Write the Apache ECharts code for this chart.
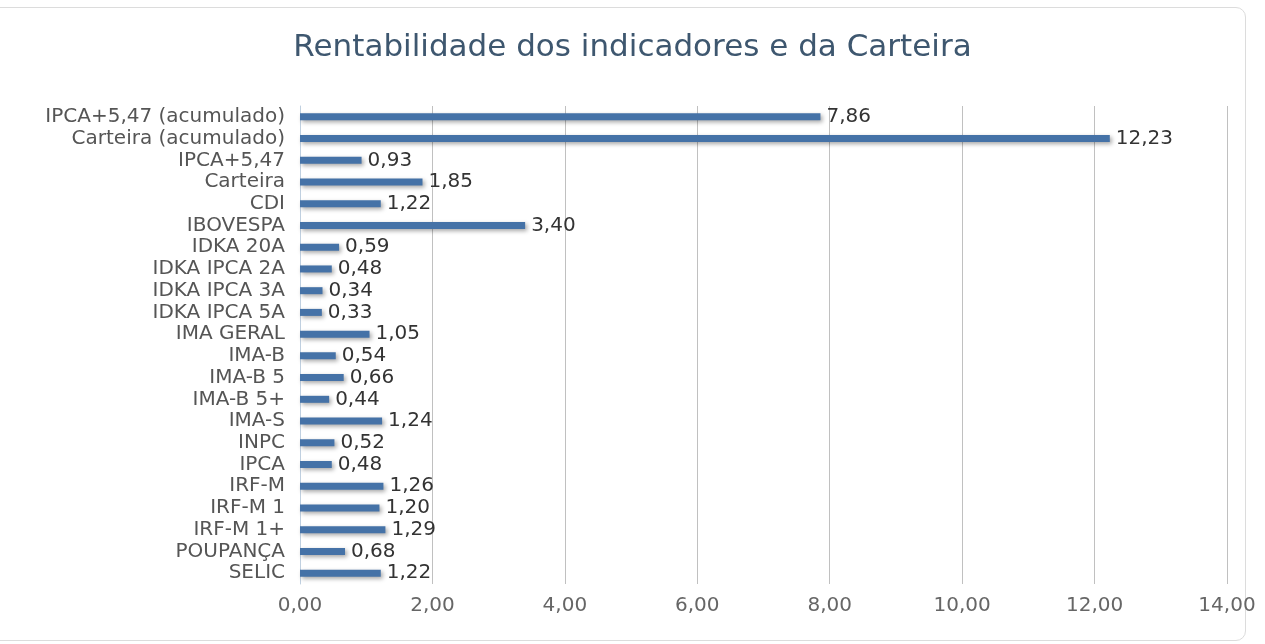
<!DOCTYPE html>
<html><head><meta charset="utf-8">
<script src="https://cdn.jsdelivr.net/npm/echarts@6/dist/echarts.min.js"></script>
<style>
html,body{margin:0;padding:0;background:#fff;}
#frame{position:absolute;left:-12px;top:7px;width:1256px;height:632px;border:1px solid #dcdcdc;border-radius:10px;}
#chart{position:absolute;left:0;top:0;width:1265px;height:644px;}
</style></head>
<body><div id="frame"></div><div id="chart"></div>
<script>
const categories = ["IPCA+5,47 (acumulado)","Carteira (acumulado)","IPCA+5,47","Carteira","CDI","IBOVESPA","IDKA 20A","IDKA IPCA 2A","IDKA IPCA 3A","IDKA IPCA 5A","IMA GERAL","IMA-B","IMA-B 5","IMA-B 5+","IMA-S","INPC","IPCA","IRF-M","IRF-M 1","IRF-M 1+","POUPANÇA","SELIC"];
const values = [7.86,12.23,0.93,1.85,1.22,3.40,0.59,0.48,0.34,0.33,1.05,0.54,0.66,0.44,1.24,0.52,0.48,1.26,1.20,1.29,0.68,1.22];
const xTicks = {min:0, max:14, interval:2};
const fmt = v => v.toFixed(2).replace('.', ',');
const chart = echarts.init(document.getElementById('chart'));
const FONT = 'DejaVu Sans';
chart.setOption({
  animation:false,
  title:{text:'Rentabilidade dos indicadores e da Carteira', left:'center', top:27,
    textStyle:{color:'#3E576F', fontSize:31, fontWeight:'normal', fontFamily:FONT}},
  grid:{left:300, right:38, top:106, bottom:60},
  xAxis:{type:'value', min:xTicks.min, max:xTicks.max, interval:xTicks.interval,
    axisLine:{show:false}, axisTick:{show:false},
    splitLine:{lineStyle:{color:'#C0C0C0', width:1}},
    axisLabel:{formatter:fmt, color:'#666', fontSize:20, fontFamily:FONT, margin:12}},
  yAxis:{type:'category', data:categories, inverse:true,
    axisLine:{lineStyle:{color:'#C0D0E0'}},
    axisTick:{length:7, lineStyle:{color:'#C0D0E0'}},
    axisLabel:{color:'#555', fontSize:20, fontFamily:FONT, margin:15, interval:0}},
  series:[{type:'bar', data:values, barWidth:7,
    itemStyle:{color:'#4572A7', shadowColor:'rgba(0,0,0,0.35)', shadowBlur:4, shadowOffsetX:2, shadowOffsetY:2},
    label:{show:true, position:'right', distance:6, formatter:p=>fmt(p.value), color:'#333', fontSize:20, fontFamily:FONT}}]
});
</script></body></html>
